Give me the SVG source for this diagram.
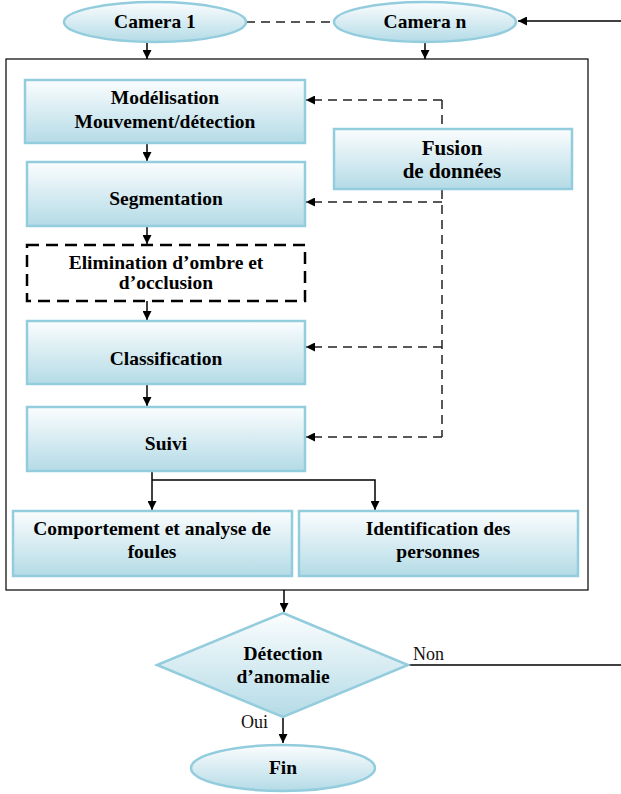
<svg xmlns="http://www.w3.org/2000/svg" width="621" height="794" viewBox="0 0 621 794">
<defs>
<linearGradient id="g" x1="0" y1="0" x2="0" y2="1">
<stop offset="0" stop-color="#fbfdfe"/>
<stop offset="1" stop-color="#b4dbe6"/>
</linearGradient>
<marker id="ah" viewBox="0 0 10 10" refX="10" refY="5" markerWidth="9" markerHeight="9" markerUnits="userSpaceOnUse" orient="auto">
<path d="M0,0 L10,5 L0,10 z" fill="#000"/>
</marker>
</defs>
<style>
.n{fill:url(#g);stroke:#93cddd;stroke-width:2.5}
.t{font-family:"Liberation Serif","Times New Roman",serif;font-weight:bold;font-size:19.5px;text-anchor:middle;fill:#000}
.r{font-family:"Liberation Serif","Times New Roman",serif;font-size:18px;fill:#111}
.c{stroke:#000;stroke-width:1.5;fill:none}
.d{stroke:#222;stroke-width:1.5;fill:none;stroke-dasharray:9 6}
</style>
<rect x="6" y="59" width="582" height="531" fill="#fff" stroke="#000" stroke-width="1.2"/>
<g id="connectors">
<line class="d" x1="246" y1="22" x2="334" y2="22"/>
<line class="c" x1="621" y1="21" x2="518" y2="21" marker-end="url(#ah)"/>
<line class="c" x1="147" y1="42" x2="147" y2="59" marker-end="url(#ah)"/>
<line class="c" x1="425" y1="42" x2="425" y2="59" marker-end="url(#ah)"/>
<line class="c" x1="147" y1="143" x2="147" y2="161" marker-end="url(#ah)"/>
<line class="c" x1="147" y1="226" x2="147" y2="244" marker-end="url(#ah)"/>
<line class="c" x1="147" y1="301" x2="147" y2="320" marker-end="url(#ah)"/>
<line class="c" x1="147" y1="385" x2="147" y2="406" marker-end="url(#ah)"/>
<polyline class="c" points="152,471 152,480 152,510" marker-end="url(#ah)"/>
<polyline class="c" points="152,480 375,480 375,510" marker-end="url(#ah)"/>
<polyline class="d" points="442,100 442,437"/>
<line class="d" x1="442" y1="100" x2="306" y2="100" marker-end="url(#ah)"/>
<line class="d" x1="442" y1="202" x2="306" y2="202" marker-end="url(#ah)"/>
<line class="d" x1="442" y1="347" x2="306" y2="347" marker-end="url(#ah)"/>
<line class="d" x1="442" y1="437" x2="306" y2="437" marker-end="url(#ah)"/>
<line class="c" x1="284" y1="590" x2="284" y2="612" marker-end="url(#ah)"/>
<line class="c" x1="408" y1="665" x2="621" y2="665"/>
<line class="c" x1="283" y1="717" x2="283" y2="743" marker-end="url(#ah)"/>
<text class="r" x="413" y="660">Non</text>
<text class="r" x="241" y="728">Oui</text>
</g>
<g id="camera1">
<ellipse class="n" cx="155" cy="22" rx="91" ry="20"/>
<text class="t" x="155" y="28">Camera 1</text>
</g>
<g id="cameran">
<ellipse class="n" cx="425" cy="22" rx="91" ry="20"/>
<text class="t" x="425" y="28">Camera n</text>
</g>
<g id="modelisation">
<rect class="n" x="25" y="80" width="280" height="63"/>
<text class="t" x="165" y="104">Modélisation</text>
<text class="t" x="165" y="128">Mouvement/détection</text>
</g>
<g id="segmentation">
<rect class="n" x="27" y="162" width="278" height="64"/>
<text class="t" x="166" y="205">Segmentation</text>
</g>
<g id="elimination">
<rect x="27" y="245" width="278" height="56" fill="#fff" stroke="#000" stroke-width="2.5" stroke-dasharray="12 7"/>
<text class="t" x="166" y="269">Elimination d’ombre et</text>
<text class="t" x="166" y="289">d’occlusion</text>
</g>
<g id="classification">
<rect class="n" x="27" y="321" width="278" height="63"/>
<text class="t" x="166" y="365">Classification</text>
</g>
<g id="suivi">
<rect class="n" x="27" y="407" width="278" height="64"/>
<text class="t" x="166" y="450">Suivi</text>
</g>
<g id="fusion">
<rect class="n" x="334" y="129" width="238" height="60"/>
<text class="t" x="452" y="155" style="font-size:21px">Fusion</text>
<text class="t" x="452" y="178" style="font-size:21px">de données</text>
</g>
<g id="comportement">
<rect class="n" x="13" y="511" width="279" height="65"/>
<text class="t" x="152" y="535">Comportement et analyse de</text>
<text class="t" x="152" y="558">foules</text>
</g>
<g id="identification">
<rect class="n" x="299" y="511" width="279" height="65"/>
<text class="t" x="438" y="535">Identification des</text>
<text class="t" x="438" y="558">personnes</text>
</g>
<g id="detection">
<polygon class="n" points="283,613 408,665 283,717 157,665"/>
<text class="t" x="283" y="660">Détection</text>
<text class="t" x="283" y="683">d’anomalie</text>
</g>
<g id="fin">
<ellipse class="n" cx="283" cy="768" rx="92" ry="23"/>
<text class="t" x="283" y="774">Fin</text>
</g>
</svg>
